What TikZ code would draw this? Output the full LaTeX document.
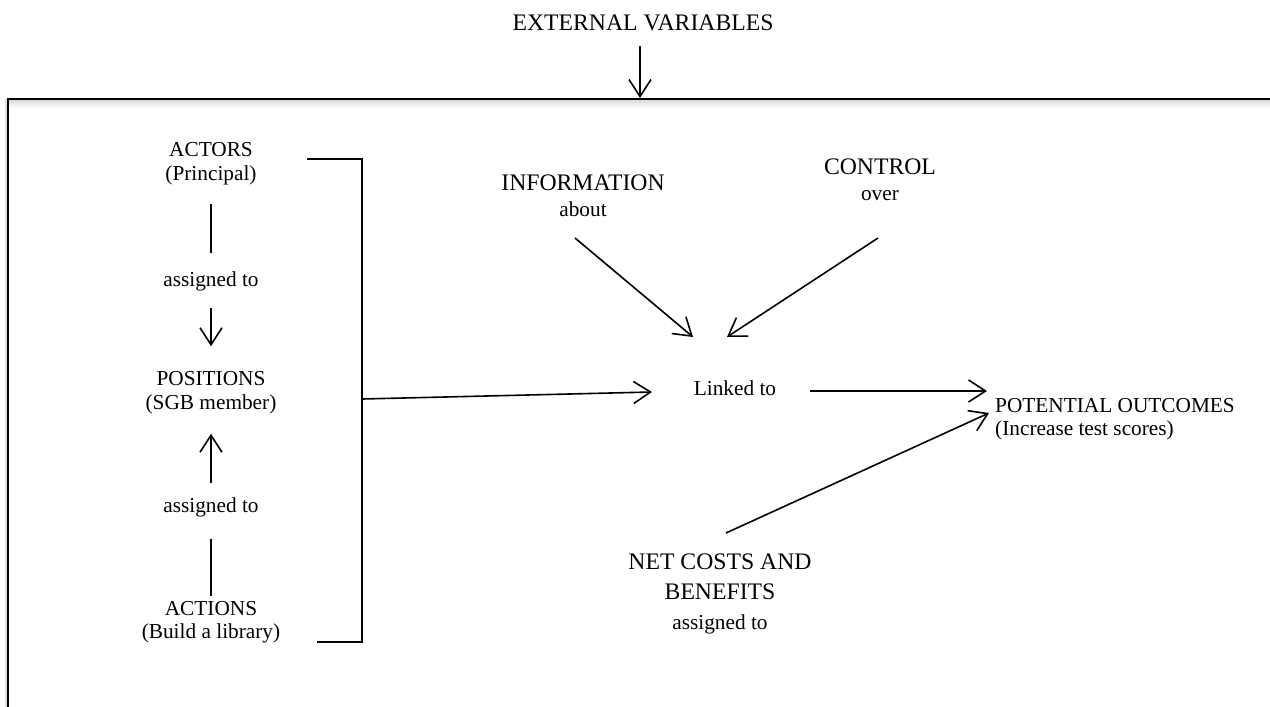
\documentclass[tikz,border=0pt]{standalone}
\usepackage{fontspec}
\setmainfont{Liberation Serif}
\usetikzlibrary{arrows.meta}
\begin{document}
\begin{tikzpicture}[x=1pt,y=-1pt,
  txt/.style={inner sep=0pt, align=center, font=\fontsize{21.3}{23.5}\selectfont},
  big/.style={inner sep=0pt, align=center, font=\fontsize{23.7}{26}\selectfont},
  bigthree/.style={inner sep=0pt, align=center, font=\fontsize{23.7}{30}\selectfont},
  conn/.style={line width=1.6pt},
  arr/.style={conn, -{Straight Barb[length=17pt,width=22pt,line width=1.6pt]}},
]
\useasboundingbox (0,0) rectangle (1270,707);
\fill[white] (0,0) rectangle (1270,707);
% frame (clipped at right and bottom) with soft shadow
\shade[top color=black!14,bottom color=white] (9,100) rectangle (1270,108);
\fill[black!12] (4.5,99) rectangle (6.5,707);
\draw[line width=2pt] (8,707) -- (8,99) -- (1270,99);

% external variables
\node[big] (ext) at (643,23) {EXTERNAL VARIABLES};
\coordinate (boxtop) at (640,98);
\draw[arr] (ext.south -| boxtop) ++(0,15) -- (boxtop);

% left column
\node[txt] (actors) at (211,163.5) {ACTORS\\(Principal)};
\node[txt] (asg1)   at (211,281)   {assigned to};
\node[txt] (pos)    at (211,392.5) {POSITIONS\\(SGB member)};
\node[txt] (asg2)   at (211,507.7) {assigned to};
\node[txt] (act)    at (211,622)   {ACTIONS\\(Build a library)};

\draw[conn, shorten <=19pt, shorten >=18.5pt] (actors) -- (asg1);
\draw[arr, shorten <=17pt, shorten >=25pt] (asg1) -- (pos);
\draw[arr, shorten <=15pt, shorten >=20pt] (asg2) -- (pos);
\draw[conn, shorten <=21pt, shorten >=4.5pt] (asg2) -- (act);

% bracket
\coordinate (b1) at (307,159);
\coordinate (b2) at (362,159);
\coordinate (b3) at (362,642);
\coordinate (b4) at (317,642);
\coordinate (bm) at (362,399);
\draw[conn] (b1) -- (b2) -- (b3) -- (b4);

% middle
\node[txt] (linked) at (735,388) {Linked to};
\node[big] (info) at (583,196) {INFORMATION\\{\fontsize{21.3}{26}\selectfont about}};
\node[big] (ctrl) at (880,179.7) {CONTROL\\{\fontsize{21.3}{26}\selectfont over}};
\node[bigthree] (net) at (720,593.5) {NET COSTS AND\\BENEFITS\\{\fontsize{21.3}{30}\selectfont assigned to}};
\node[txt, anchor=west, align=left] (pot) at (995,419) {POTENTIAL OUTCOMES\\(Increase test scores)};

\coordinate (l1) at (652,392);
\draw[arr] (bm) -- (l1);

\coordinate (p0) at (810,391);
\coordinate (p1) at (987,391);
\draw[arr] (p0) -- (p1);

\coordinate (i0) at (575,238);
\coordinate (i1) at (693,337);
\draw[arr] (i0) -- (i1);

\coordinate (c0) at (878,238);
\coordinate (c1) at (727,337);
\draw[arr] (c0) -- (c1);

\coordinate (n0) at (726,533);
\coordinate (n1) at (989,413);
\draw[arr] (n0) -- (n1);
\end{tikzpicture}
\end{document}
